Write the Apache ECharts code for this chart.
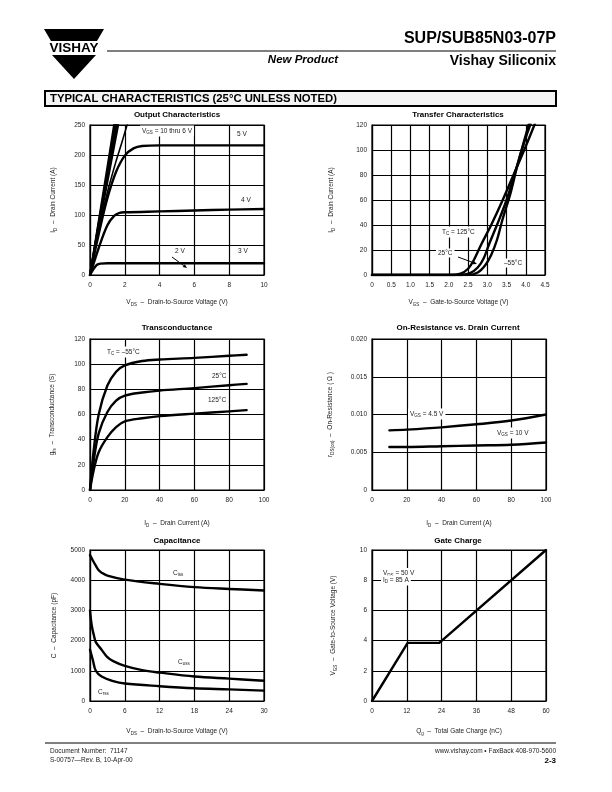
<!DOCTYPE html>
<html><head><meta charset="utf-8">
<script src="https://cdn.jsdelivr.net/npm/echarts@6/dist/echarts.min.js"></script>
<style>html,body{margin:0;padding:0;background:#fff}#c{width:612px;height:792px}</style>
</head><body><div id="c"></div>
<script>
// ---------- DATA ----------
// Output Characteristics (VDS V, ID A)
var out_10 = [[0,0],[0.5,90],[1,180],[1.38,250]];
var out_9  = [[0,0],[0.5,87],[1,172],[1.45,250]];
var out_8  = [[0,0],[0.5,84],[1,164],[1.53,250]];
var out_7  = [[0,0],[0.5,80],[1,155],[1.62,250]];
var out_6  = [[0,0],[0.5,75],[1,138],[1.5,190],[1.8,218],[2.13,250]];
var out_5  = [[0,0],[0.5,68],[1,128],[1.5,172],[2,199],[2.5,211],[3,215],[4,216],[10,216]];
var out_4  = [[0,0],[0.5,45],[1,83],[1.4,99],[1.7,103.5],[2,104.5],[4,106],[6,107.5],[8,109],[10,110]];
var out_3  = [[0,0],[0.2,10],[0.4,17],[0.6,19],[1,19.5],[10,19.5]];
// Transfer Characteristics (VGS V, ID A)
var tr_125 = [[0,0],[2.0,0],[2.3,1],[2.5,5],[2.65,12],[2.85,25],[3.1,40],[3.4,60],[3.75,85],[4.0,103],[4.25,122]];
var tr_25  = [[0,0],[2.3,0],[2.55,1.5],[2.75,6],[2.9,13],[3.05,25],[3.25,40],[3.5,60],[3.75,85],[4.0,110],[4.2,127]];
var tr_m55 = [[0,0],[2.5,0],[2.75,2],[2.95,8],[3.1,16],[3.25,28],[3.4,45],[3.6,65],[3.8,90],[4.0,112],[4.15,128]];
// Transconductance (ID A, gfs S)
var gfs_m55 = [[0,0],[2,30],[5,60],[10,83],[15,94],[20,99],[30,102.5],[40,103.7],[60,105],[80,106.7],[90,107.5]];
var gfs_25  = [[0,0],[2,22],[5,45],[10,62],[15,71],[20,75],[30,77.5],[40,79],[60,81],[80,83.3],[90,84.3]];
var gfs_125 = [[0,0],[2,15],[5,30],[10,42],[15,50],[20,54.5],[30,57],[40,58.7],[60,60.7],[80,62.5],[90,63.5]];
// On-Resistance (ID A, rDS(on) ohm)
var ron_45 = [[10,0.0079],[20,0.0080],[40,0.0083],[60,0.0087],[80,0.0092],[100,0.0100]];
var ron_10 = [[10,0.0057],[20,0.0057],[40,0.0058],[60,0.0059],[80,0.0060],[100,0.0063]];
// Capacitance (VDS V, C pF)
var cap_iss = [[0,4830],[0.5,4650],[1,4480],[1.5,4330],[2,4250],[3,4150],[6,4020],[12,3880],[18,3770],[24,3710],[30,3660]];
var cap_oss = [[0,3000],[0.3,2500],[0.7,2150],[1,1950],[2,1700],[3,1450],[4,1320],[6,1160],[9,1020],[12,940],[18,810],[24,740],[30,670]];
var cap_rss = [[0,1700],[0.5,1350],[1,1000],[2,810],[4,660],[6,580],[12,490],[18,420],[24,385],[30,345]];
// Gate Charge (Qg nC, VGS V)
var gate = [[0,0],[12.3,3.85],[23.2,3.85],[60,10]];

// Axis ranges / ticks [min, max, interval]
var axOut = {x:[0,10,2], y:[0,250,50]};
var axTr  = {x:[0,4.5,0.5], y:[0,120,20]};
var axGfs = {x:[0,100,20], y:[0,120,20]};
var axRon = {x:[0,100,20], y:[0,0.020,0.005]};
var axCap = {x:[0,30,6], y:[0,5000,1000]};
var axGate= {x:[0,60,12], y:[0,10,2]};

// ---------- LAYOUT ----------
var FF = 'Liberation Sans, Arial, Helvetica, sans-serif';
var grids = [
  {left:90, top:125, width:174, height:150},
  {left:372, top:125, width:173, height:150},
  {left:90, top:339, width:174, height:151},
  {left:372, top:339, width:174, height:151},
  {left:90, top:550, width:174, height:151},
  {left:372, top:550, width:174, height:151}
];
grids.forEach(function(g){ g.show = true; g.borderColor = '#000'; g.borderWidth = 1.2; g.backgroundColor='#fff'; });

var subRich = {
  n: {fontSize: 6.5, fontFamily: FF, color:'#222'},
  s: {fontSize: 4.5, fontFamily: FF, color:'#222', padding:[4,0,0,0]}
};

function plain(v){ return String(v); }
function f1(v){ return v === 0 ? '0' : v.toFixed(1); }
function f3(v){ return v === 0 ? '0' : v.toFixed(3); }

function axis(gi, r, fmt, name, gap, isY) {
  return {
    type:'value', gridIndex:gi, min:r[0], max:r[1], interval:r[2],
    axisLine:{show:true, lineStyle:{color:'#000', width:1.2}},
    axisTick:{show:false},
    splitLine:{show:true, lineStyle:{color:'#000', width:1.2}},
    axisLabel:{fontSize:6.5, fontFamily:FF, color:'#222', margin: isY ? 5 : 7, formatter: fmt || plain},
    name: name, nameLocation:'middle', nameGap: gap,
    nameTextStyle:{fontSize:6.5, fontFamily:FF, color:'#222', rich: subRich}
  };
}

var xAxes = [
  axis(0, axOut.x, null, '{n|V}{s|DS}{n|  –  Drain-to-Source Voltage (V)}', 23, false),
  axis(1, axTr.x, f1, '{n|V}{s|GS}{n|  –  Gate-to-Source Voltage (V)}', 23, false),
  axis(2, axGfs.x, null, '{n|I}{s|D}{n|  –  Drain Current (A)}', 29, false),
  axis(3, axRon.x, null, '{n|I}{s|D}{n|  –  Drain Current (A)}', 29, false),
  axis(4, axCap.x, null, '{n|V}{s|DS}{n|  –  Drain-to-Source Voltage (V)}', 26, false),
  axis(5, axGate.x, null, '{n|Q}{s|g}{n|  –  Total Gate Charge (nC)}', 26, false)
];
var yAxes = [
  axis(0, axOut.y, null, '{n|I}{s|D}{n|  –  Drain Current (A)}', 32, true),
  axis(1, axTr.y, null, '{n|I}{s|D}{n|  –  Drain Current (A)}', 36, true),
  axis(2, axGfs.y, null, '{n|g}{s|fs}{n|  –  Transconductance (S)}', 33, true),
  axis(3, axRon.y, f3, '{n|r}{s|DS(on)}{n|  –  On-Resistance ( Ω )}', 37, true),
  axis(4, axCap.y, null, '{n|C  –  Capacitance (pF)}', 32, true),
  axis(5, axGate.y, null, '{n|V}{s|GS}{n|  –  Gate-to-Source Voltage (V)}', 34, true)
];

function line(gi, data, w, smooth) {
  return {type:'line', xAxisIndex:gi, yAxisIndex:gi, data:data, showSymbol:false, symbol:'none',
    smooth: smooth === undefined ? 0.35 : smooth,
    lineStyle:{color:'#000', width: w || 2.4, join:'round', cap:'round'}, clip:true, silent:true, animation:false, z:5};
}
var series = [
  line(0,out_10,2,0.15), line(0,out_9,2,0.15), line(0,out_8,2,0.15), line(0,out_7,2,0.15), line(0,out_6,1.6,0.3),
  line(0,out_5), line(0,out_4), line(0,out_3,2.4,0.3),
  line(1,tr_125), line(1,tr_25), line(1,tr_m55),
  line(2,gfs_m55), line(2,gfs_25), line(2,gfs_125),
  line(3,ron_45), line(3,ron_10),
  line(4,cap_iss), line(4,cap_oss), line(4,cap_rss),
  line(5,gate,2.4,false)
];

// ---------- TEXT / DECOR ----------
var annRich = {
  n:{fontSize:6.5, fontFamily:FF, fill:'#222', color:'#222'},
  s:{fontSize:4.5, fontFamily:FF, fill:'#222', color:'#222', padding:[4,0,0,0]}
};
function txt(x, y, text, opt) {
  opt = opt || {};
  return {type:'text', x:x, y:y, z:20, silent:true,
    style:{text:text, fontSize:opt.size||6.5, fontFamily:FF, fontWeight:opt.weight||'normal', fontStyle:opt.style||'normal',
      fill:opt.color||'#222', align:opt.align||'left', verticalAlign:opt.va||'middle',
      backgroundColor: opt.bg, padding: opt.pad, rich: annRich}};
}
function ann(x, y, text) { return txt(x, y, text, {bg:'#fff', pad:[1,2,1,2]}); }
function arrow(x1,y1,x2,y2){
  var dx=x2-x1, dy=y2-y1, L=Math.sqrt(dx*dx+dy*dy), ux=dx/L, uy=dy/L, hl=4, hw=1.8;
  var bx=x2-ux*hl, by=y2-uy*hl;
  return [
    {type:'line', z:21, silent:true, shape:{x1:x1,y1:y1,x2:bx,y2:by}, style:{stroke:'#000', lineWidth:1}},
    {type:'polygon', z:21, silent:true, shape:{points:[[x2,y2],[bx-uy*hw,by+ux*hw],[bx+uy*hw,by-ux*hw]]}, style:{fill:'#000'}}
  ];
}

var graphics = [
  // logo
  {type:'polygon', silent:true, shape:{points:[[44,29],[104,29],[97,41],[51,41]]}, style:{fill:'#000'}},
  txt(74, 48, 'VISHAY', {size:13.5, weight:'bold', align:'center', color:'#000'}),
  {type:'polygon', silent:true, shape:{points:[[52,55],[96,55],[74,79]]}, style:{fill:'#000'}},
  // header
  txt(556, 38.5, 'SUP/SUB85N03-07P', {size:16, weight:'bold', align:'right', color:'#000'}),
  {type:'line', silent:true, shape:{x1:107,y1:51,x2:556,y2:51}, style:{stroke:'#000', lineWidth:1.2}},
  txt(303, 60, 'New Product', {size:11.5, weight:'bold', style:'italic', align:'center', color:'#000'}),
  txt(556, 61, 'Vishay Siliconix', {size:14, weight:'bold', align:'right', color:'#000'}),
  // section box
  {type:'rect', silent:true, shape:{x:45,y:91,width:511,height:15}, style:{fill:'#f4f4f4', stroke:'#000', lineWidth:2}},
  txt(50, 98.5, 'TYPICAL CHARACTERISTICS (25°C UNLESS NOTED)', {size:11.3, weight:'900', color:'#000'}),
  // chart titles
  txt(177, 115, 'Output Characteristics', {size:8, weight:'bold', align:'center', color:'#000'}),
  txt(458, 115, 'Transfer Characteristics', {size:8, weight:'bold', align:'center', color:'#000'}),
  txt(177, 328, 'Transconductance', {size:8, weight:'bold', align:'center', color:'#000'}),
  txt(458, 328, 'On-Resistance vs. Drain Current', {size:8, weight:'bold', align:'center', color:'#000'}),
  txt(177, 541, 'Capacitance', {size:8, weight:'bold', align:'center', color:'#000'}),
  txt(458, 541, 'Gate Charge', {size:8, weight:'bold', align:'center', color:'#000'}),
  // chart 1 annotations
  ann(140, 131, '{n|V}{s|GS}{n| = 10 thru 6 V}'),
  ann(235, 134, '5 V'),
  ann(239, 200, '4 V'),
  ann(236, 251, '3 V'),
  ann(173, 251, '2 V'),
  // chart 2 annotations
  ann(440, 232, '{n|T}{s|C}{n| = 125°C}'),
  ann(436, 253, '25°C'),
  ann(502, 263, '–55°C'),
  // chart 3
  ann(105, 352, '{n|T}{s|C}{n| = –55°C}'),
  ann(210, 376, '25°C'),
  ann(206, 400, '125°C'),
  // chart 4
  ann(408, 414, '{n|V}{s|GS}{n| = 4.5 V}'),
  ann(495, 433, '{n|V}{s|GS}{n| = 10 V}'),
  // chart 5
  ann(171, 573, '{n|C}{s|iss}'),
  ann(176, 662, '{n|C}{s|oss}'),
  ann(96, 692, '{n|C}{s|rss}'),
  // chart 6
  txt(381, 573, '{n|V}{s|DS}{n| = 50 V}', {bg:'#fff', pad:[1,2,0,2]}),
  txt(381, 580.5, '{n|I}{s|D}{n| = 85 A}', {bg:'#fff', pad:[0,2,1,2]}),
  // footer
  {type:'line', silent:true, shape:{x1:45,y1:743,x2:556,y2:743}, style:{stroke:'#000', lineWidth:1}},
  txt(50, 751, 'Document Number:  71147', {size:6.5}),
  txt(50, 760, 'S-00757—Rev. B, 10-Apr-00', {size:6.5}),
  txt(556, 751, 'www.vishay.com • FaxBack 408-970-5600', {size:6.5, align:'right'}),
  txt(556, 760.5, '2-3', {size:8, weight:'bold', align:'right', color:'#000'})
];
graphics = graphics.concat(arrow(172,257,187,268), arrow(458,257,477,264));

var chart = echarts.init(document.getElementById('c'), null, {renderer:'canvas'});
chart.setOption({
  backgroundColor:'#fff',
  animation:false,
  grid: grids,
  xAxis: xAxes,
  yAxis: yAxes,
  series: series,
  graphic: graphics
});
</script>
</body></html>
